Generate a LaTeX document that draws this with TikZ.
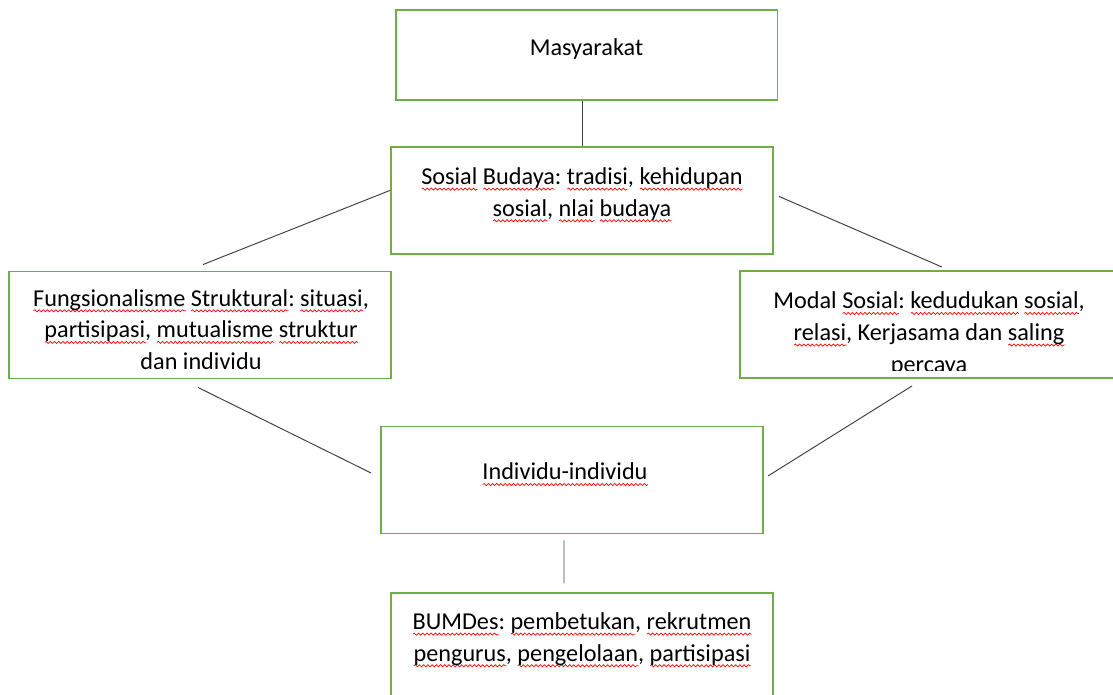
\documentclass[tikz,border=0pt]{standalone}
\usepackage{fontspec}
\setmainfont{Carlito}
\usepackage{tikz}
\usetikzlibrary{positioning,calc,decorations.pathmorphing}

\definecolor{boxgreen}{HTML}{70AD47}
\definecolor{linegray}{HTML}{404040}

% red wavy mark under a word
\newsavebox\sqbox
\newlength\sqwd
\newcommand\sq[1]{\sbox\sqbox{#1}\setlength\sqwd{\wd\sqbox}\leavevmode\rlap{\lower2.6pt\hbox{\tikz[x=1pt,y=1pt,baseline=0pt]\draw[red, line width=0.4pt, decorate, decoration={snake, amplitude=0.6pt, segment length=2.4pt}] (0,0) -- (\sqwd,0);}}\usebox\sqbox}

\begin{document}
\frenchspacing
\begin{tikzpicture}[
    x=0.02cm, y=-0.02cm,
    node distance=0.9cm,
    box/.style={rectangle, draw=boxgreen, line width=1.1pt, inner sep=0pt, minimum width=7.64cm, minimum height=2.14cm},
    txt/.style={align=center, inner sep=0pt, font=\fontsize{13.8}{18}\selectfont},
    link/.style={draw=linegray, line width=0.55pt}
]
    \useasboundingbox (0,0) rectangle (1113,695);
    \clip (0,0) rectangle (1113,695);

    \node[box, minimum height=1.8cm] (mas) at (586.5,55) {};
    \node[box, below=of mas, xshift=-0.09cm] (sos) {};
    \node[box] (fung) at (200,325) {};
    \node[box] (modal) at (931,324.5) {};
    \node[box] (ind) at (572,480) {};
    \node[box, below=1.16cm of ind, xshift=0.2cm] (bum) {};

    \node[txt] (masT) at ($(mas.north)+(0,40)$) {Masyarakat};
    \node[txt] (sosT) at ($(sos.north)+(0,49)$) {\sq{Sosial} \sq{Budaya}: \sq{tradisi}, \sq{kehidupan}\\ \sq{sosial}, \sq{nlai} \sq{budaya}};
    \node[txt] (fungT) at ($(fung.north)+(1,59)$) {\sq{Fungsionalisme} \sq{Struktural}: \sq{situasi},\\ \sq{partisipasi}, \sq{mutualisme} \sq{struktur}\\ dan individu};
    \begin{scope}
        \clip (modal.north west) rectangle ($(modal.south east)+(0,-8)$);
        \node[txt] (modalT) at ($(modal.north)+(-2,64)$) {Modal \sq{Sosial}: \sq{kedudukan} \sq{sosial},\\ \sq{relasi}, Kerjasama dan \sq{saling}\\ percaya};
    \end{scope}
    \node[txt] (indT) at ($(ind.north)+(-7,49)$) {\sq{Individu-individu}};
    \node[txt] (bumT) at ($(bum.north)+(0,47.5)$) {\sq{BUMDes}: \sq{pembetukan}, \sq{rekrutmen}\\ \sq{pengurus}, \sq{pengelolaan}, \sq{partisipasi}};

    \draw[link] (sos.north |- mas.south) -- (sos.north);
    \draw[link] ($(sos.west)+(0,-10)$) -- ($(fung.north)+(3,-6)$);
    \draw[link] ($(sos.east)+(5,-4)$) -- ($(modal.north)+(11,-3)$);
    \draw[link] ($(fung.south)+(-2,8)$) -- ($(ind.west)+(-9,-7)$);
    \draw[link] ($(modal.south)+(-19,7)$) -- ($(ind.east)+(4,-4)$);
    \draw[link] ($(ind.south)+(-8,6)$) -- ($(bum.north)+(-18,-9)$);
\end{tikzpicture}
\end{document}
